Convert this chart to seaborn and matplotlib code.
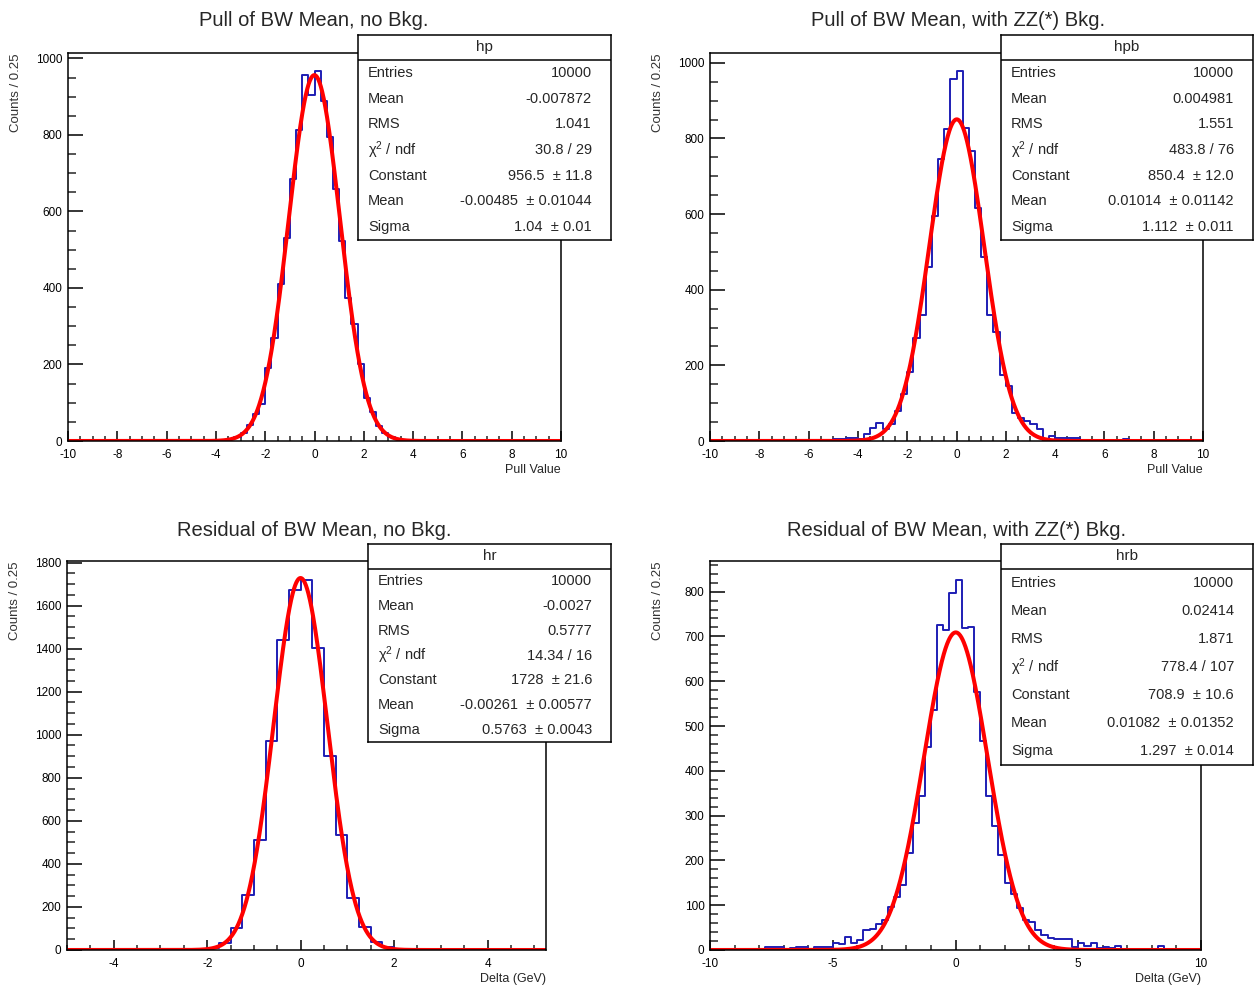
import numpy as np
import pandas as pd
import matplotlib
matplotlib.use("Agg")
import matplotlib.pyplot as plt
import seaborn as sns
from matplotlib.ticker import MultipleLocator

# all histograms use 0.25 wide bins
BIN = 0.25

# hp : pull, no background (bins from -4.0 to 4.0)
hp_start = -4.0
hp_counts = [1, 2, 5, 11, 20, 41, 70, 98, 192, 268, 410, 530, 685, 812, 957, 905,
             966, 890, 795, 660, 524, 375, 305, 200, 112, 76, 40, 20, 10, 5, 2, 1]
hp_fit = [956.5, -0.00485, 1.04]          # constant, mean, sigma
hp_stats = [("Entries", "10000"), ("Mean", "-0.007872"), ("RMS", "1.041"),
            ("chi2", "30.8 / 29"), ("Constant", "956.5  \u00b1 11.8"),
            ("Mean", "-0.00485  \u00b1 0.01044"), ("Sigma", "1.04  \u00b1 0.01")]

# hpb : pull, with ZZ(*) background (bins from -5.0 to 7.0)
hpb_start = -5.0
hpb_counts = [6, 6, 7, 7, 5, 19, 35, 47, 31, 46, 79, 125, 183, 272, 332, 460,
              596, 746, 826, 957, 977, 828, 768, 615, 486, 332, 288, 174, 145, 75, 60, 53,
              44, 31, 4, 13, 8, 7, 7, 7, 1, 2, 1, 1, 2, 1, 1, 6]
hpb_fit = [850.4, 0.01014, 1.112]
hpb_stats = [("Entries", "10000"), ("Mean", "0.004981"), ("RMS", "1.551"),
             ("chi2", "483.8 / 76"), ("Constant", "850.4  \u00b1 12.0"),
             ("Mean", "0.01014  \u00b1 0.01142"), ("Sigma", "1.112  \u00b1 0.011")]

# hr : residual, no background (bins from -2.25 to 2.25)
hr_start = -2.25
hr_counts = [3, 10, 33, 102, 256, 512, 969, 1442, 1674, 1721, 1403, 899, 535, 241, 109, 39, 12, 3]
hr_fit = [1728.0, -0.00261, 0.5763]
hr_stats = [("Entries", "10000"), ("Mean", "-0.0027"), ("RMS", "0.5777"),
            ("chi2", "14.34 / 16"), ("Constant", "1728  \u00b1 21.6"),
            ("Mean", "-0.00261  \u00b1 0.00577"), ("Sigma", "0.5763  \u00b1 0.0043")]

# hrb : residual, with ZZ(*) background (bins from -10 to 10)
hrb_start = -10.0
hrb_counts = [1, 0, 2, 1, 1, 2, 1, 2, 3, 7, 6, 7, 3, 4, 7, 6, 3, 7, 6, 7,
              15, 14, 28, 15, 23, 44, 46, 57, 68, 95, 118, 145, 216, 283, 343, 454,
              536, 726, 715, 797, 827, 718, 720, 577, 466, 343, 276, 212,
              149, 125, 93, 66, 62, 45, 34, 26, 24, 24, 24, 7, 15, 9, 15, 4,
              7, 4, 9, 3, 2, 2, 3, 2, 2, 8, 1, 2, 1, 1, 0, 1]
hrb_fit = [708.9, 0.01082, 1.297]
hrb_stats = [("Entries", "10000"), ("Mean", "0.02414"), ("RMS", "1.871"),
             ("chi2", "778.4 / 107"), ("Constant", "708.9  \u00b1 10.6"),
             ("Mean", "0.01082  \u00b1 0.01352"), ("Sigma", "1.297  \u00b1 0.014")]

W, H = 1254, 989
BLUE = "#1e1eb4"

sns.set_style("white")
plt.rcParams["font.family"] = ["Liberation Sans", "DejaVu Sans"]
plt.rcParams["axes.unicode_minus"] = False
plt.rcParams["mathtext.fontset"] = "custom"
plt.rcParams["mathtext.rm"] = "Liberation Sans"
plt.rcParams["mathtext.it"] = "Liberation Sans:italic"

fig = plt.figure(figsize=(W / 100, H / 100), dpi=100)
fig.patch.set_facecolor("white")


def fpos(x0, x1, y0, y1):
    # pixel box -> figure fraction [left, bottom, width, height]
    return [x0 / W, 1 - y1 / H, (x1 - x0) / W, (y1 - y0) / H]


panels = [
    dict(name="hp", start=hp_start, counts=hp_counts, fit=hp_fit, stats=hp_stats,
         title="Pull of BW Mean, no Bkg.", xlabel="Pull Value",
         xlim=(-10, 10), xmaj=2, xmin=0.5, ymaj=200, ymin=50,
         ax=(68, 561, 53, 441), box=(358, 611, 35, 240), title_xy=(314, 20)),
    dict(name="hpb", start=hpb_start, counts=hpb_counts, fit=hpb_fit, stats=hpb_stats,
         title="Pull of BW Mean, with ZZ(*) Bkg.", xlabel="Pull Value",
         xlim=(-10, 10), xmaj=2, xmin=0.5, ymaj=200, ymin=50,
         ax=(710, 1203, 53, 441), box=(1001, 1253, 35, 240), title_xy=(958, 20)),
    dict(name="hr", start=hr_start, counts=hr_counts, fit=hr_fit, stats=hr_stats,
         title="Residual of BW Mean, no Bkg.", xlabel="Delta (GeV)",
         xlim=(-5, 5.25), xmaj=2, xmin=0.5, ymaj=200, ymin=50,
         ax=(67, 546, 561, 950), box=(368, 611, 544, 742), title_xy=(314, 530)),
    dict(name="hrb", start=hrb_start, counts=hrb_counts, fit=hrb_fit, stats=hrb_stats,
         title="Residual of BW Mean, with ZZ(*) Bkg.", xlabel="Delta (GeV)",
         xlim=(-10, 10), xmaj=5, xmin=1, ymaj=100, ymin=20,
         ax=(710, 1201, 561, 950), box=(1001, 1253, 544, 765), title_xy=(957, 530)),
]

for p in panels:
    x0, x1, y0, y1 = p["ax"]
    ax = fig.add_axes(fpos(x0, x1, y0, y1))
    lo, hi = p["xlim"]

    # full binning over the axis range, zero outside the filled window
    nb = int(round((hi - lo) / BIN))
    edges = lo + BIN * np.arange(nb + 1)
    counts = np.zeros(nb)
    i0 = int(round((p["start"] - lo) / BIN))
    counts[i0:i0 + len(p["counts"])] = p["counts"]
    df = pd.DataFrame({"x": edges[:-1] + BIN / 2, "w": counts})

    sns.histplot(data=df, x="x", weights="w", bins=list(edges), element="step",
                 fill=False, color=BLUE, linewidth=1.4, ax=ax)

    # gaussian fit function with the fitted parameters
    c, m, s = p["fit"]
    xs = np.linspace(lo, hi, 1200)
    fit_df = pd.DataFrame({"x": xs, "y": c * np.exp(-0.5 * ((xs - m) / s) ** 2)})
    sns.lineplot(data=fit_df, x="x", y="y", color="red", linewidth=2.9, ax=ax)

    ax.set_xlim(lo, hi)
    ax.set_ylim(0, 1.05 * max(p["counts"]))
    ax.xaxis.set_major_locator(MultipleLocator(p["xmaj"]))
    ax.xaxis.set_minor_locator(MultipleLocator(p["xmin"]))
    ax.yaxis.set_major_locator(MultipleLocator(p["ymaj"]))
    ax.yaxis.set_minor_locator(MultipleLocator(p["ymin"]))
    ax.tick_params(axis="x", which="major", direction="in", length=7, width=1.1,
                   labelsize=8.5, pad=6, bottom=True, top=False, colors="black")
    ax.tick_params(axis="x", which="minor", direction="in", length=3.6, width=1.1,
                   bottom=True, top=False)
    ax.tick_params(axis="y", which="major", direction="in", length=10.5, width=1.1,
                   labelsize=8.5, pad=4, left=True, right=False, colors="black")
    ax.tick_params(axis="y", which="minor", direction="in", length=5.5, width=1.1,
                   left=True, right=False)
    for sp in ax.spines.values():
        sp.set_linewidth(1.1)
        sp.set_color("black")

    ax.set_xlabel(p["xlabel"], loc="right", fontsize=9)
    ax.xaxis.set_label_coords(1.0, -23 / (y1 - y0))
    ax.set_ylabel("Counts / 0.25", loc="top", fontsize=9.5, color="#333333")
    ax.yaxis.set_label_coords(-46 / (x1 - x0), 1.0)

    fig.text(p["title_xy"][0] / W, 1 - p["title_xy"][1] / H, p["title"],
             ha="center", va="center", fontsize=14.5)

    # statistics box
    bx0, bx1, by0, by1 = p["box"]
    bax = fig.add_axes(fpos(bx0, bx1, by0, by1))
    bax.set_zorder(5)
    bax.set_facecolor("white")
    bax.set_xticks([])
    bax.set_yticks([])
    bax.set_xlim(0, 1)
    bax.set_ylim(0, 1)
    for sp in bax.spines.values():
        sp.set_linewidth(1.1)
        sp.set_color("black")
    hh = 25 / (by1 - by0)
    bax.axhline(1 - hh, color="black", linewidth=1.1)
    bax.text(0.5, 1 - hh / 2, p["name"], ha="center", va="center", fontsize=11)
    bw = bx1 - bx0
    rh = (1 - hh) / 7
    for k, (lab, val) in enumerate(p["stats"]):
        yy = 1 - hh - rh * (k + 0.5)
        if lab == "chi2":
            lab = r"$\mathrm{\chi}^{2}$ / ndf"
        bax.text(10 / bw, yy, lab, ha="left", va="center", fontsize=10.5)
        bax.text(1 - 19 / bw, yy, val, ha="right", va="center", fontsize=10.5)

fig.savefig("out.png", dpi=100, facecolor="white")
